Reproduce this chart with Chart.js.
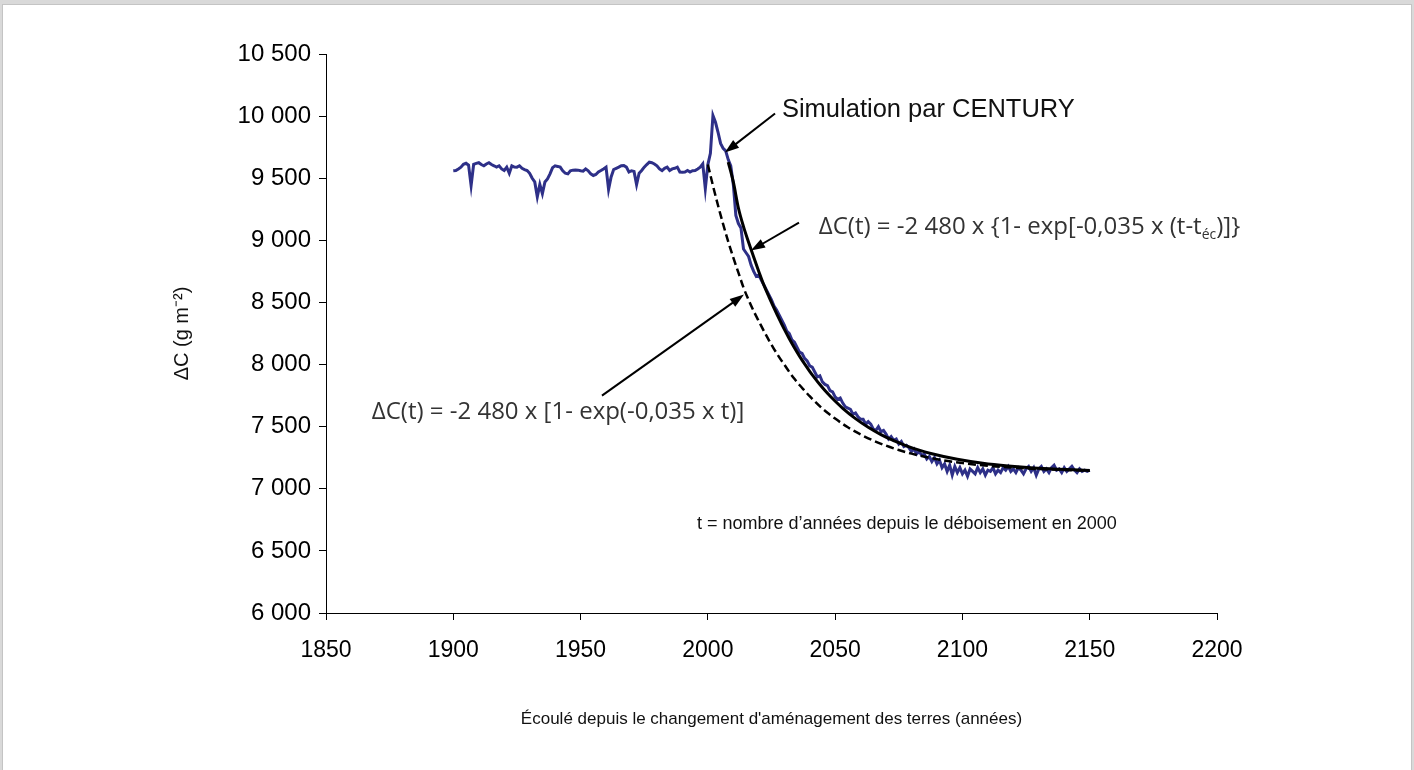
<!DOCTYPE html>
<html lang="fr">
<head>
<meta charset="utf-8">
<title>ΔC – simulation CENTURY</title>
<script src="https://cdn.jsdelivr.net/npm/chart.js@4.4.1/dist/chart.umd.min.js"></script>
<style>
    html, body { margin: 0; padding: 0; background: #fff; }
    .frame { position: absolute; left: 0; top: 0; width: 1414px; height: 770px; background: #d9d9d9; }
    .sheet { position: absolute; left: 2px; top: 4px; width: 1408px; height: 766px; background: #fff; border: 1px solid #c4c4c4; border-bottom: none; }
    .chart-box { position: absolute; left: 0; top: 0; width: 1414px; height: 770px; }
</style>
</head>
<body>
<div class="frame"><div class="sheet"></div></div>
<div class="chart-box"><canvas id="carbonChart"></canvas></div>
<script>
// Axis ticks
const xTickValues = [1850, 1900, 1950, 2000, 2050, 2100, 2150, 2200];
const yTickValues = [6000, 6500, 7000, 7500, 8000, 8500, 9000, 9500, 10000, 10500];

// CENTURY simulation, one value per year starting in 1900
const centuryStartYear = 1900;
const centuryValues = [
    9560, 9562, 9575, 9589, 9612, 9620, 9605, 9441, 9612, 9620,
    9625, 9610, 9600, 9615, 9625, 9610, 9600, 9589, 9600, 9575,
    9562, 9589, 9540, 9600, 9590, 9589, 9600, 9580, 9570, 9562,
    9540, 9500, 9470, 9350, 9450, 9375, 9470, 9495, 9535, 9585,
    9600, 9595, 9589, 9560, 9540, 9535, 9560, 9565, 9567, 9565,
    9560, 9557, 9575, 9560, 9535, 9522, 9530, 9550, 9562, 9575,
    9589, 9410, 9510, 9570, 9580, 9589, 9600, 9602, 9589, 9550,
    9560, 9555, 9449, 9540, 9562, 9589, 9610, 9629, 9625, 9615,
    9600, 9575, 9562, 9580, 9589, 9562, 9575, 9580, 9589, 9550,
    9549, 9550, 9562, 9549, 9560, 9562, 9575, 9589, 9615, 9415,
    9610, 9700, 10005, 9950, 9870, 9780, 9740, 9720, 9650, 9600,
    9450, 9200, 9135, 9100, 8930, 8900, 8870, 8800, 8750, 8710,
    8720, 8680, 8640, 8600, 8560, 8520, 8470, 8440, 8400, 8360,
    8320, 8270, 8250, 8200, 8180, 8140, 8100, 8090, 8050, 8030,
    7990, 7980, 7940, 7900, 7910, 7860, 7840, 7830, 7790, 7780,
    7740, 7720, 7730, 7690, 7660, 7650, 7640, 7600, 7610, 7580,
    7560, 7560, 7520, 7540, 7520, 7480, 7470, 7500, 7460, 7470,
    7440, 7400, 7420, 7390, 7400, 7360, 7380, 7340, 7350, 7330,
    7300, 7320, 7280, 7300, 7270, 7280, 7240, 7260, 7220, 7250,
    7200, 7230, 7170, 7200, 7140, 7190, 7110, 7180, 7130, 7170,
    7120, 7150, 7100, 7160, 7140, 7120, 7170, 7130, 7160, 7110,
    7150, 7140, 7170, 7120, 7150, 7130, 7170, 7150, 7180, 7140,
    7160, 7130, 7170, 7150, 7120, 7160, 7180, 7140, 7170, 7110,
    7160, 7180, 7140, 7160, 7130, 7170, 7190, 7150, 7160, 7130,
    7170, 7140, 7160, 7180, 7150, 7130, 7160, 7140, 7150, 7140,
    7150
];

// Fit starting at the clearing year t_éc (solid line)
const fitEcYears = [2008, 2010, 2012, 2014, 2016, 2018, 2020, 2022, 2024, 2026, 2028, 2030,
    2032, 2034, 2036, 2038, 2040, 2042, 2044, 2046, 2048, 2053, 2058, 2063, 2068, 2073,
    2078, 2083, 2088, 2098, 2108, 2118, 2128, 2138, 2150];
const fitEcValues = [9630, 9470, 9260, 9110, 8985, 8865, 8750, 8640, 8545, 8455, 8368, 8285,
    8208, 8136, 8068, 8005, 7946, 7891, 7839, 7791, 7747, 7648, 7565, 7495, 7436, 7387,
    7346, 7311, 7282, 7237, 7205, 7183, 7167, 7157, 7148];

// Fit starting in 2000 (dashed line)
const fitYears = [2000, 2002, 2004, 2006, 2008, 2010, 2012, 2014, 2016, 2018, 2020, 2022,
    2024, 2026, 2028, 2030, 2032, 2034, 2036, 2038, 2040, 2045, 2050, 2055, 2060, 2065,
    2070, 2075, 2080, 2090, 2100, 2110, 2120, 2130, 2140, 2150];
const fitValues = [9610, 9440, 9280, 9130, 8990, 8860, 8740, 8620, 8520, 8430, 8350, 8270,
    8195, 8125, 8060, 8000, 7940, 7885, 7835, 7790, 7745, 7645, 7565, 7495, 7437, 7388,
    7347, 7312, 7283, 7238, 7207, 7185, 7170, 7159, 7151, 7146];

const FONT = '"Liberation Sans", Arial, sans-serif';
const NOTE_FONT = '"Open Sans", "Noto Sans", sans-serif';

// Annotations, anchored in data units (year, g m-2)
const arrows = [
    { from: [2026.4, 10021], to: [2006.7, 9707] },
    { from: [2035.8, 9143], to: [2016.9, 8918] },
    { from: [1958.4, 7750], to: [2014.2, 8563] }
];

function pairs(xs, ys) {
    return ys.map((v, i) => ({ x: xs[i], y: v }));
}

function drawArrow(ctx, x1, y1, x2, y2) {
    const angle = Math.atan2(y2 - y1, x2 - x1);
    const head = 15;
    ctx.beginPath();
    ctx.moveTo(x1, y1);
    ctx.lineTo(x2 - Math.cos(angle) * head * 0.8, y2 - Math.sin(angle) * head * 0.8);
    ctx.stroke();
    ctx.beginPath();
    ctx.moveTo(x2, y2);
    ctx.lineTo(x2 - head * Math.cos(angle - 0.33), y2 - head * Math.sin(angle - 0.33));
    ctx.lineTo(x2 - head * Math.cos(angle + 0.33), y2 - head * Math.sin(angle + 0.33));
    ctx.closePath();
    ctx.fill();
}

const notesPlugin = {
    id: 'notes',
    afterDraw(chart) {
        const { ctx, scales: { x, y } } = chart;
        const px = v => x.getPixelForValue(v);
        const py = v => y.getPixelForValue(v);

        ctx.save();
        ctx.strokeStyle = '#000';
        ctx.fillStyle = '#000';
        ctx.lineWidth = 2;
        arrows.forEach(a => drawArrow(ctx, px(a.from[0]), py(a.from[1]), px(a.to[0]), py(a.to[1])));

        ctx.textAlign = 'left';
        ctx.textBaseline = 'middle';

        ctx.font = '25.5px ' + FONT;
        ctx.fillStyle = '#111';
        ctx.fillText('Simulation par CENTURY', px(2029.1), py(10053));

        // formula with t_éc subscript
        ctx.fillStyle = '#333';
        ctx.font = '24px ' + NOTE_FONT;
        let cx = px(2043.6);
        const cy = py(9103);
        const part1 = 'ΔC(t) = -2 480 x {1- exp[-0,035 x (t-t';
        ctx.fillText(part1, cx, cy);
        cx += ctx.measureText(part1).width;
        ctx.font = '14px ' + NOTE_FONT;
        ctx.fillText('éc', cx, cy + 7);
        cx += ctx.measureText('éc').width;
        ctx.font = '24px ' + NOTE_FONT;
        ctx.fillText(')]}', cx, cy);

        ctx.fillText('ΔC(t) = -2 480 x [1- exp(-0,035 x t)]', px(1868), py(7616));

        ctx.fillStyle = '#111';
        ctx.font = '18px ' + FONT;
        ctx.fillText('t = nombre d’années depuis le déboisement en 2000', px(1995.7), py(6720));
        ctx.restore();
    }
};

const axisGrid = { drawOnChartArea: false, drawTicks: true, tickLength: 7, color: '#000', lineWidth: 1 };

const ctx = document.getElementById('carbonChart').getContext('2d');
new Chart(ctx, {
    type: 'line',
    data: {
        datasets: [
            {
                label: 'ΔC(t) avec t_éc',
                data: pairs(fitEcYears, fitEcValues),
                borderColor: '#000',
                borderWidth: 3,
                pointRadius: 0,
                cubicInterpolationMode: 'monotone'
            },
            {
                label: 'ΔC(t)',
                data: pairs(fitYears, fitValues),
                borderColor: '#000',
                borderWidth: 2.5,
                borderDash: [8, 4],
                pointRadius: 0,
                cubicInterpolationMode: 'monotone'
            },
            {
                label: 'Simulation par CENTURY',
                data: centuryValues.map((v, i) => ({ x: centuryStartYear + i, y: v })),
                borderColor: '#2e3088',
                borderWidth: 3,
                pointRadius: 0,
                tension: 0
            }
        ]
    },
    options: {
        responsive: true,
        maintainAspectRatio: false,
        animation: false,
        events: [],
        layout: { padding: { left: 150, right: 197, top: 54, bottom: 0 } },
        plugins: {
            legend: { display: false },
            tooltip: { enabled: false }
        },
        scales: {
            x: {
                type: 'linear',
                min: 1850,
                max: 2200,
                afterFit: s => { s.height = 157; },
                afterBuildTicks: s => { s.ticks = xTickValues.map(v => ({ value: v })); },
                grid: axisGrid,
                border: { color: '#000', width: 1 },
                ticks: {
                    color: '#000',
                    font: { family: FONT, size: 23 },
                    padding: 17,
                    maxRotation: 0,
                    autoSkip: false,
                    callback: v => String(v)
                },
                title: {
                    display: true,
                    text: 'Écoulé depuis le changement d\'aménagement des terres (années)',
                    color: '#111',
                    font: { family: FONT, size: 17 },
                    padding: { top: 0, bottom: 40 }
                }
            },
            y: {
                min: 6000,
                max: 10500,
                afterFit: s => { s.width = 176; },
                afterBuildTicks: s => { s.ticks = yTickValues.map(v => ({ value: v })); },
                grid: axisGrid,
                border: { color: '#000', width: 1 },
                ticks: {
                    color: '#000',
                    font: { family: FONT, size: 24 },
                    padding: 8,
                    callback: v => String(v).replace(/\B(?=(\d{3})+(?!\d))/g, ' ')
                },
                title: {
                    display: true,
                    text: 'ΔC (g m⁻²)',
                    color: '#111',
                    font: { family: FONT, size: 20 },
                    padding: { top: 20, bottom: 0 }
                }
            }
        }
    },
    plugins: [notesPlugin]
});
</script>
</body>
</html>
